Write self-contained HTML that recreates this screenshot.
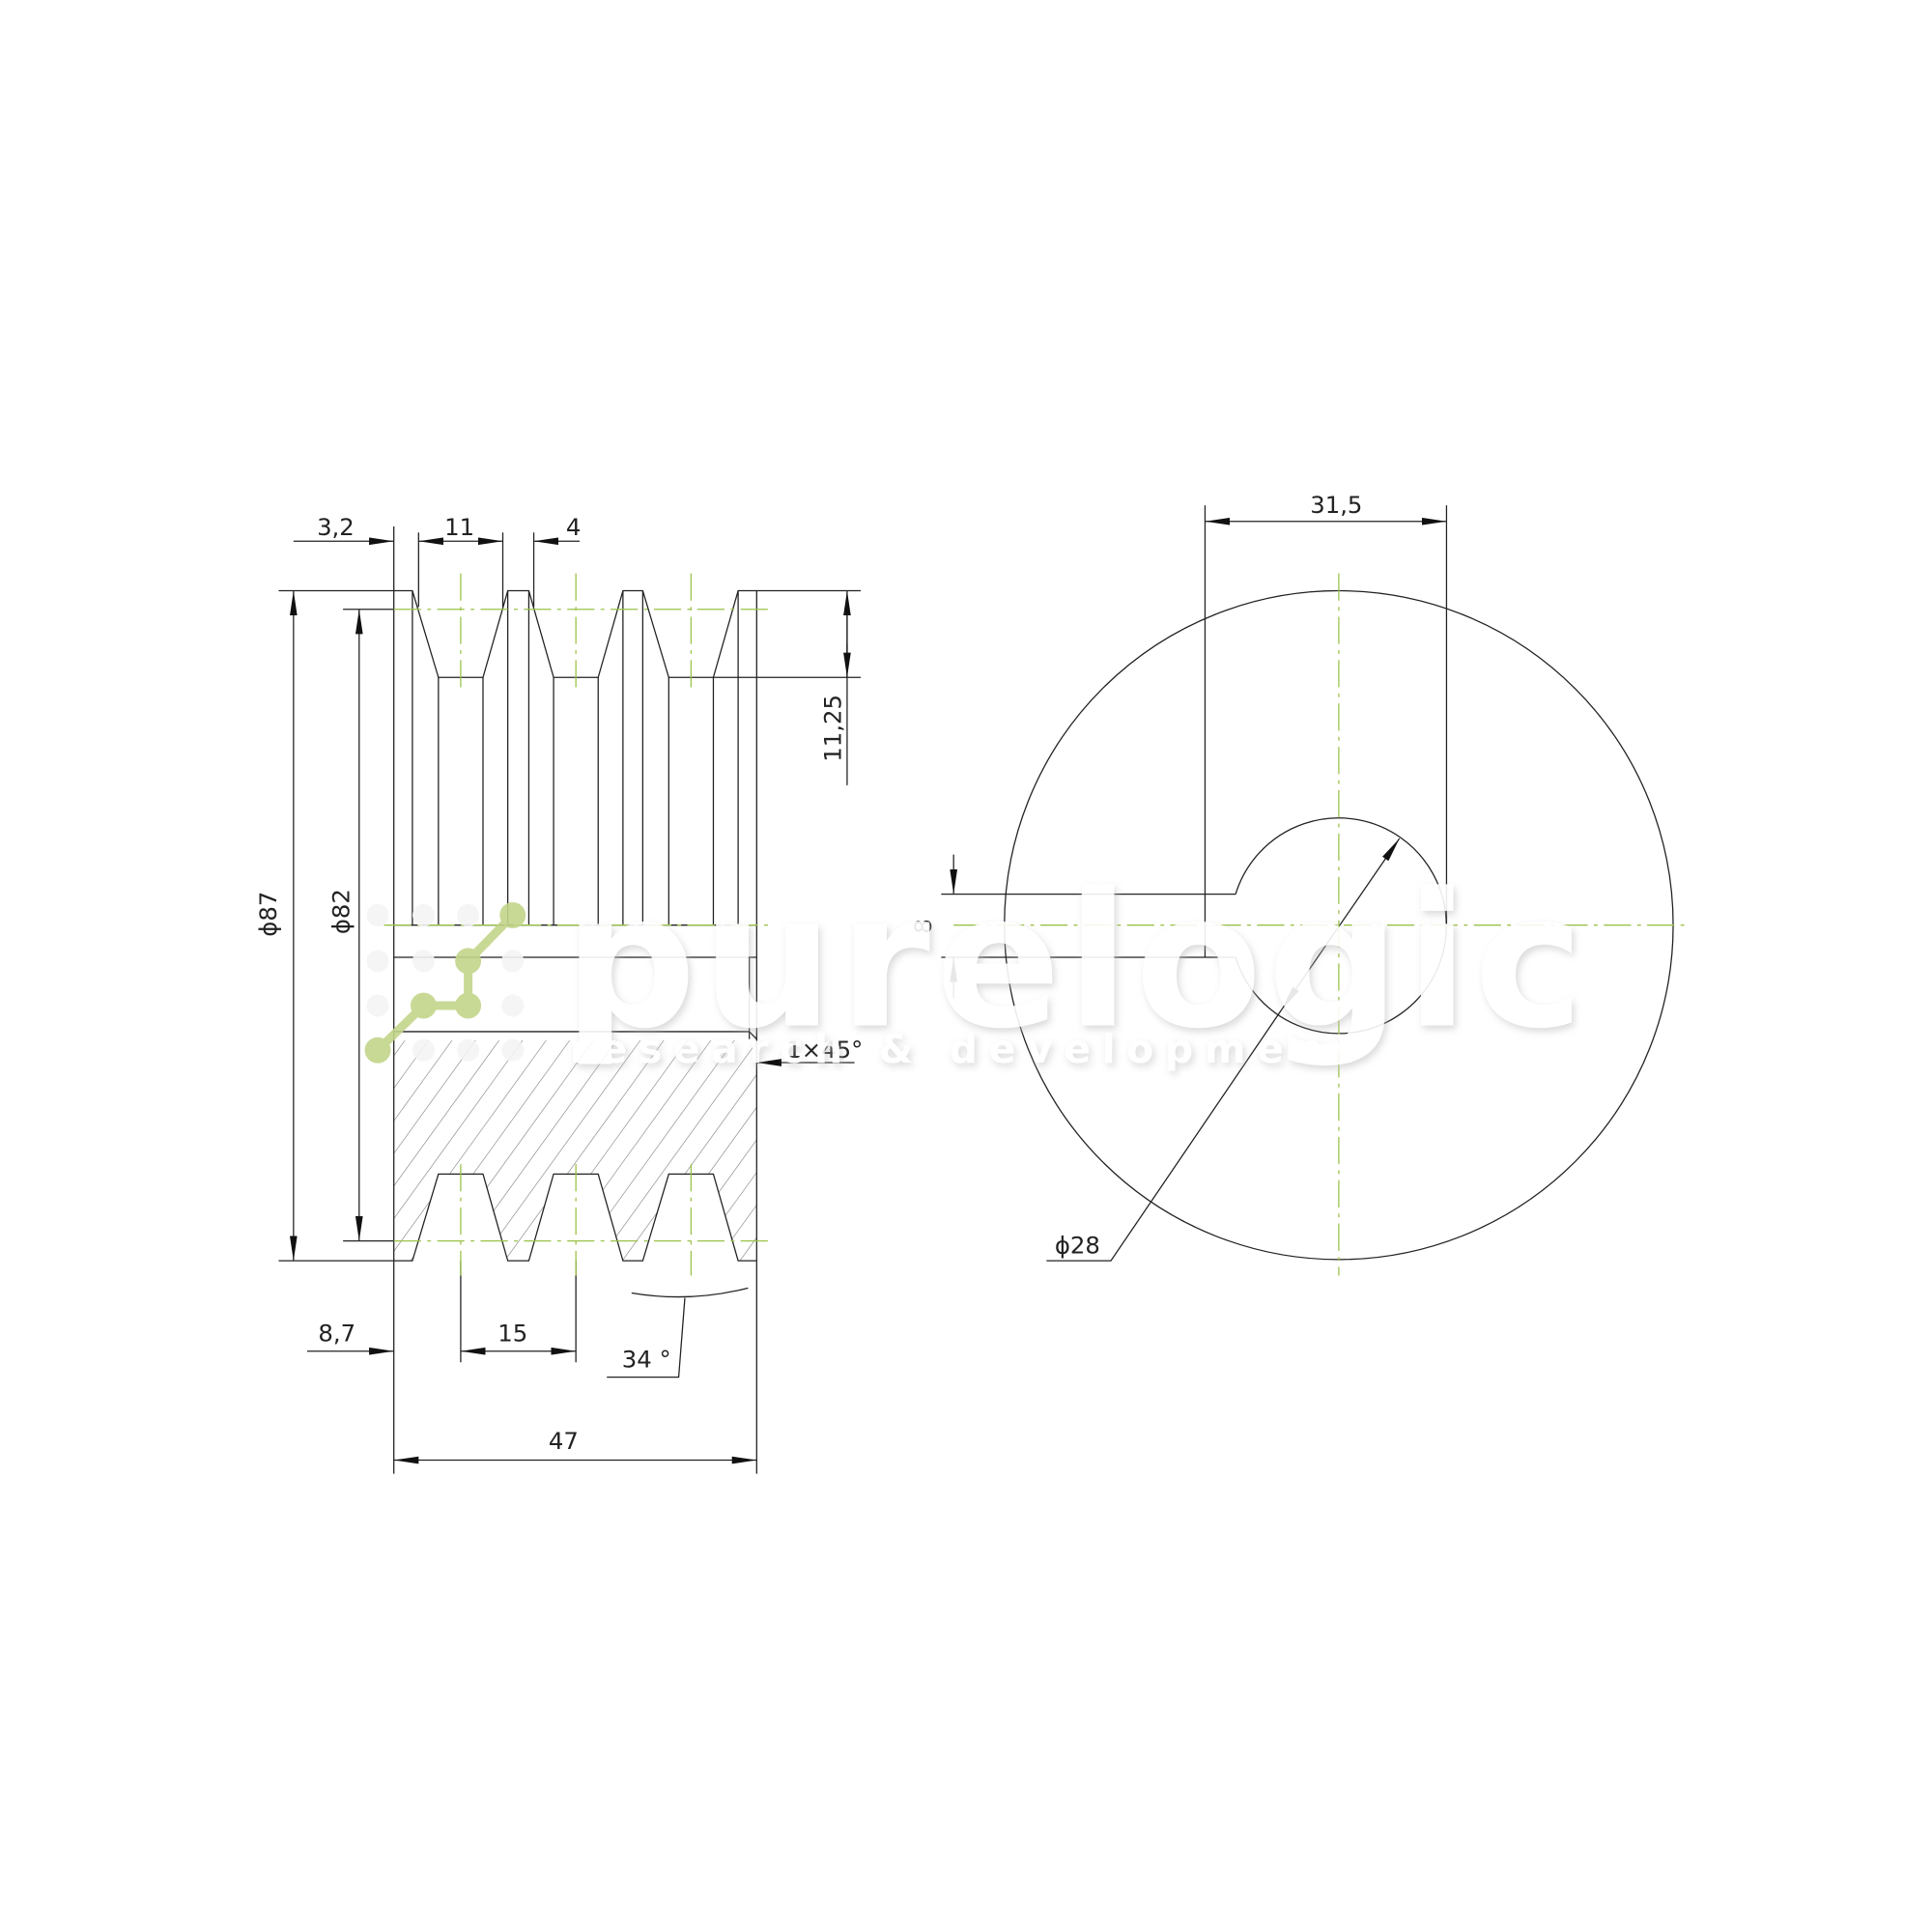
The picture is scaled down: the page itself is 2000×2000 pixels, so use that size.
<!DOCTYPE html>
<html><head><meta charset="utf-8"><style>
html,body{margin:0;padding:0;background:#fff}
svg{display:block}
text{font-family:"DejaVu Sans","Liberation Sans",sans-serif;font-size:19px;fill:#222}
</style></head><body>
<svg width="2000" height="2000" viewBox="0 0 1560 1560" xmlns="http://www.w3.org/2000/svg">
<defs>
<marker id="a" viewBox="0 0 20 6" refX="20" refY="3" markerWidth="20" markerHeight="6" orient="auto-start-reverse" markerUnits="userSpaceOnUse"><path d="M0,0 L20,3 L0,6 Z" fill="#111"/></marker>
<clipPath id="hc"><path d="M318,839 L611,839 L611,1018 L596,1018 L576,948 L540,948 L519,1018 L503,1018 L483,948 L447,948 L427,1018 L410,1018 L390,948 L354,948 L333,1018 L318,1018 Z"/></clipPath>
<filter id="sh" x="-10%" y="-30%" width="120%" height="160%"><feDropShadow dx="2" dy="3" stdDeviation="3" flood-color="#bbb" flood-opacity="0.6"/></filter>
</defs>
<rect width="1560" height="1560" fill="#fff"/>
<g stroke="#222" stroke-width="1" fill="none">
<g clip-path="url(#hc)" stroke="#999" stroke-width="0.6">
<path d="M200,1200 L460,840 M219,1200 L479,840 M238,1200 L498,840 M257,1200 L517,840 M276,1200 L536,840 M295,1200 L555,840 M314,1200 L574,840 M333,1200 L593,840 M352,1200 L612,840 M371,1200 L631,840 M390,1200 L650,840 M409,1200 L669,840 M428,1200 L688,840 M447,1200 L707,840 M466,1200 L726,840 M485,1200 L745,840 M504,1200 L764,840 M523,1200 L783,840 M542,1200 L802,840 M561,1200 L821,840 M181,1200 L441,840 M162,1200 L422,840 M143,1200 L403,840 M124,1200 L384,840 M105,1200 L365,840 M86,1200 L346,840 M67,1200 L327,840"/>
</g>
<path d="M318,1018 L318,477 L333,477 L354,547 L390,547 L410,477 L427,477 L447,547 L483,547 L503,477 L519,477 L540,547 L576,547 L596,477 L611,477 L611,1018"/>
<path d="M333,477 V747 M354,547 V747 M390,547 V747 M410,477 V747 M427,477 V747 M447,547 V747 M483,547 V747 M503,477 V747 M519,477 V747 M540,547 V747 M576,547 V747 M596,477 V747"/>
<path d="M318,747 H611 M318,773 H611 M605,773 V839 M318,833 H605 L611,839"/>
<path d="M318,1018 L333,1018 L354,948 L390,948 L410,1018 L427,1018 L447,948 L483,948 L503,1018 L519,1018 L540,948 L576,948 L596,1018 L611,1018"/>
<path d="M318,425 V477 M338,430 V490 M406,430 V490 M431,430 V490"/>
<path d="M237,437 H318" marker-end="url(#a)"/>
<path d="M338,437 H406" marker-start="url(#a)" marker-end="url(#a)"/>
<path d="M468,437 H431" marker-end="url(#a)"/>
<path d="M611,477 H695 M576,547 H695"/>
<path d="M684,527 V477" marker-end="url(#a)"/>
<path d="M684,497 V547 V634" />
<path d="M684,520 V547" marker-end="url(#a)"/>
<path d="M225,477 H318 M225,1018 H318 M277,492 H318 M277,1002 H318"/>
<path d="M237,477 V1018" marker-start="url(#a)" marker-end="url(#a)"/>
<path d="M290,492 V1002" marker-start="url(#a)" marker-end="url(#a)"/>
<path d="M372,1018 V1100 M465,1018 V1100 M318,1018 V1190 M611,1018 V1190"/>
<path d="M248,1091 H318" marker-end="url(#a)"/>
<path d="M372,1091 H465" marker-start="url(#a)" marker-end="url(#a)"/>
<path d="M318,1179 H611" marker-start="url(#a)" marker-end="url(#a)"/>
<path d="M690,858 H611" marker-end="url(#a)"/>
<path d="M510,1044 Q557,1052 604,1040"/>
<path d="M553,1048 L548,1112 H490"/>
<circle cx="1081" cy="747" r="270"/>
<path d="M997.7,722 A87,87 0 1,1 997.7,773"/>
<path d="M973,408 V773 M973,722 H997.7 M973,773 H997.7 M1168,408 V747"/>
<path d="M973,421 H1168" marker-start="url(#a)" marker-end="url(#a)"/>
<path d="M760,722 H973 M760,773 H973"/>
<path d="M770,690 V722" marker-end="url(#a)"/>
<path d="M770,806 V773" marker-end="url(#a)"/>
<path d="M1035,815 L1130,677" marker-start="url(#a)" marker-end="url(#a)"/>
<path d="M1035,815 L897,1018 H845"/>
</g>
<g stroke="#9bc24a" stroke-width="1" stroke-dasharray="22,5,3,5" fill="none">
<path d="M310,747 H620 M318,492 H620 M318,1002 H620"/>
<path d="M372,463 V555 M465,463 V555 M558,463 V555 M372,940 V1030 M465,940 V1030 M558,940 V1030"/>
<path d="M770,747 H1365 M1081,463 V1030"/>
</g>
<text x="271" y="432" text-anchor="middle">3,2</text>
<text x="371" y="432" text-anchor="middle">11</text>
<text x="463" y="432" text-anchor="middle">4</text>
<text x="679" y="588" text-anchor="middle" transform="rotate(-90 679 588)">11,25</text>
<text x="223" y="738" text-anchor="middle" transform="rotate(-90 223 738)">ϕ87</text>
<text x="282" y="736" text-anchor="middle" transform="rotate(-90 282 736)">ϕ82</text>
<text x="272" y="1083" text-anchor="middle">8,7</text>
<text x="414" y="1083" text-anchor="middle">15</text>
<text x="522" y="1104" text-anchor="middle">34 °</text>
<text x="455" y="1170" text-anchor="middle">47</text>
<text x="666" y="854" text-anchor="middle">1×45°</text>
<text x="1079" y="414" text-anchor="middle">31,5</text>
<text x="752" y="748" text-anchor="middle" transform="rotate(-90 752 748)">8</text>
<text x="870" y="1012" text-anchor="middle">ϕ28</text>
<g opacity="0.9">
<g fill="#f4f4f4">
<circle cx="305" cy="739" r="9"/><circle cx="342" cy="739" r="9"/><circle cx="378" cy="739" r="9"/>
<circle cx="305" cy="776" r="9"/><circle cx="342" cy="776" r="9"/><circle cx="414" cy="776" r="9"/>
<circle cx="305" cy="812" r="9"/><circle cx="414" cy="812" r="9"/>
<circle cx="342" cy="848" r="9"/><circle cx="378" cy="848" r="9"/><circle cx="414" cy="848" r="9"/>
</g>
<g fill="#c3d58a" stroke="#c3d58a" stroke-width="7">
<path d="M305,848 L342,812 L378,812 L378,776 L414,739" fill="none"/>
<circle cx="305" cy="848" r="7"/><circle cx="342" cy="812" r="7"/><circle cx="378" cy="812" r="7"/><circle cx="378" cy="776" r="7"/><circle cx="414" cy="739" r="7"/>
</g>
<g filter="url(#sh)">
<text x="455" y="828" style="font-size:150px;font-weight:bold;fill:#fff;letter-spacing:4px">purelogic</text>
<text x="460" y="858" style="font-size:32px;font-weight:bold;fill:#fff;letter-spacing:9px">research &amp; development</text>
</g>
</g>
</svg>
</body></html>
